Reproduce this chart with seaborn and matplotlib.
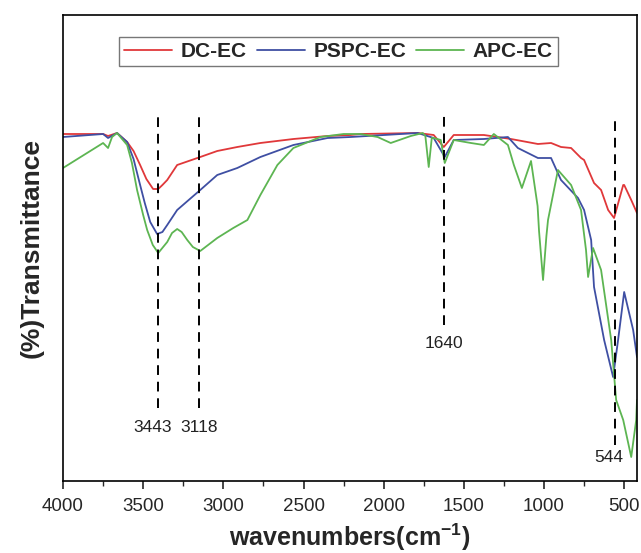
import pandas as pd
import matplotlib as mpl
mpl.use("Agg")
import matplotlib.pyplot as plt
from matplotlib.ticker import MultipleLocator
import seaborn as sns

# FTIR spectra (transmittance in arbitrary units)
dc_wn = [4000, 3750, 3719, 3663, 3600, 3560, 3519, 3480, 3438, 3406, 3380, 3350, 3288,
         3144, 3038, 2913, 2769, 2563, 2350, 2206, 2144, 1788, 1688, 1625, 1563, 1375,
         1206, 1038, 956, 894, 831, 769, 750, 688, 644, 600, 563, 506, 500, 456, 420]
dc_t = [347, 347, 345, 348, 339, 330, 316, 302, 292, 292, 296, 301, 316,
        324, 330, 334, 338, 342, 345, 346, 347, 348, 346, 334, 346, 346,
        342, 337, 338, 334, 333, 323, 321, 298, 291, 271, 263, 296, 296, 281, 268]

pspc_wn = [4000, 3750, 3719, 3663, 3600, 3560, 3519, 3490, 3456, 3413, 3380, 3350, 3288,
           3144, 3038, 2913, 2769, 2563, 2350, 2206, 1788, 1688, 1619, 1563, 1375, 1225,
           1163, 1038, 956, 894, 788, 750, 706, 688, 625, 569, 538, 500, 444, 420]
pspc_t = [344, 347, 343, 348, 339, 322, 296, 278, 259, 247, 249, 256, 271,
          291, 306, 313, 324, 336, 343, 344, 348, 343, 324, 341, 342, 344,
          333, 323, 323, 301, 283, 271, 241, 194, 141, 104, 141, 189, 151, 124]

apc_wn = [4000, 3750, 3719, 3694, 3663, 3600, 3570, 3538, 3500, 3475, 3440, 3406, 3350,
          3320, 3288, 3260, 3225, 3190, 3144, 3038, 2938, 2850, 2769, 2663, 2563, 2394,
          2250, 2144, 2038, 1956, 1831, 1756, 1740, 1719, 1700, 1688, 1644, 1619, 1563,
          1456, 1375, 1313, 1225, 1188, 1138, 1081, 1040, 1031, 1006, 985, 975, 913, 831,
          769, 738, 725, 694, 644, 581, 550, 506, 456, 425, 420]
apc_t = [313, 338, 333, 344, 348, 336, 318, 291, 266, 251, 236, 228, 239,
         248, 252, 249, 241, 234, 230, 243, 253, 261, 286, 316, 333, 344,
         347, 347, 344, 338, 345, 348, 345, 314, 343, 343, 341, 318, 341,
         338, 336, 347, 336, 316, 293, 320, 275, 250, 201, 245, 261, 311, 296,
         271, 231, 204, 233, 211, 141, 81, 61, 24, 61, 81]

series = ["DC-EC", "PSPC-EC", "APC-EC"]
colors = ["#e0383a", "#3f4fa3", "#5db552"]

# marked bands: label, position on the axis, lower end of the dashed line, label spot
peak_labels = ["3443", "3118", "1640", "544"]
peak_pos = [3406, 3150, 1625, 556]
peak_low = [73, 73, 156, 36]
label_x = [3444, 3150, 1625, 594]
label_y = [54, 53, 138, 24]

df = pd.concat([
    pd.DataFrame({"wn": dc_wn, "T": dc_t, "sample": "DC-EC"}),
    pd.DataFrame({"wn": pspc_wn, "T": pspc_t, "sample": "PSPC-EC"}),
    pd.DataFrame({"wn": apc_wn, "T": apc_t, "sample": "APC-EC"}),
])

sns.set_style("ticks")
plt.rcParams["font.family"] = ["Liberation Sans", "DejaVu Sans"]

fig = plt.figure(figsize=(6.41, 5.53), dpi=100)
ax = fig.add_axes([63 / 641, 1 - 481 / 553, 574 / 641, 466 / 553])

sns.lineplot(data=df, x="wn", y="T", hue="sample", hue_order=series,
             palette=colors, estimator=None, linewidth=1.3, ax=ax)

for p, lo, lab, lx, ly in zip(peak_pos, peak_low, peak_labels, label_x, label_y):
    ax.plot([p, p], [lo, 366], color="black", linestyle=(0, (5, 3.5)), linewidth=1.4)
    ax.text(lx, ly, lab, ha="center", va="center", fontsize=12.5, color="#222222")

ax.set_xlim(4000, 420)
ax.set_ylim(0, 466)
ax.set_yticks([])
ax.xaxis.set_major_locator(MultipleLocator(500))
ax.xaxis.set_minor_locator(MultipleLocator(250))
ax.tick_params(axis="x", which="major", direction="out", length=6, width=1.2,
               labelsize=13.5, pad=6)
ax.tick_params(axis="x", which="minor", direction="out", length=3.5, width=1.0)
for s in ax.spines.values():
    s.set_linewidth(1.2)
    s.set_color("black")

ax.set_xlabel("wavenumbers(cm$^{\\mathregular{-1}}$)", fontsize=18, fontweight="bold",
              labelpad=5)
ax.set_ylabel("(%)Transmittance", fontsize=19, fontweight="bold", labelpad=14)

leg = ax.legend(loc="upper center", bbox_to_anchor=(0.48, 0.975), ncol=3,
                fontsize=15, frameon=True, fancybox=False, handlelength=2.3,
                columnspacing=0.5, handletextpad=0.4, borderpad=0.25)
leg.get_frame().set_edgecolor("#555555")
leg.get_frame().set_linewidth(1.0)
for t in leg.get_texts():
    t.set_fontweight("bold")

fig.savefig("out.png", dpi=100)
